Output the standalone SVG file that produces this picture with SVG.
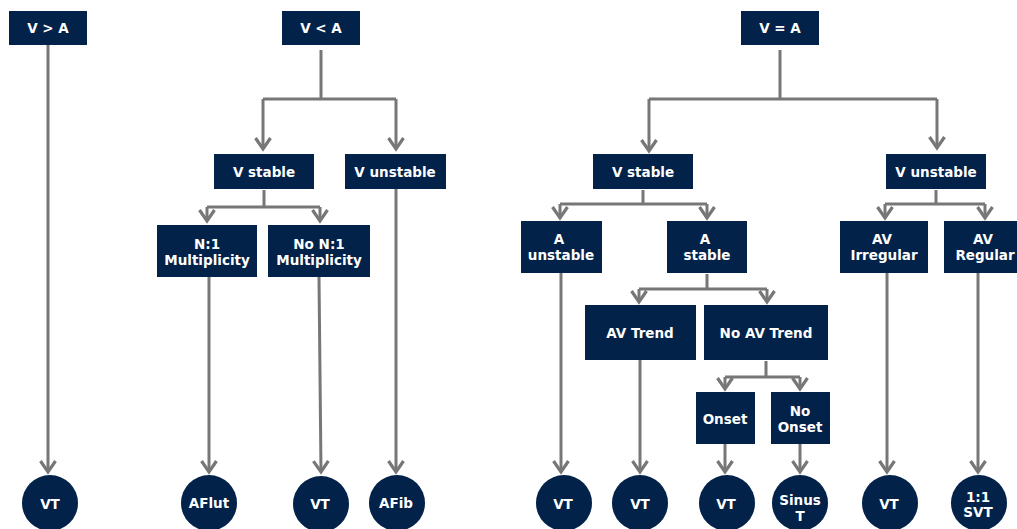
<svg xmlns="http://www.w3.org/2000/svg" width="1017" height="529" viewBox="0 0 1017 529">
<style>
.n{fill:#02224a}
.t{fill:#fff;font-family:"DejaVu Sans",Verdana,sans-serif;font-weight:bold;font-size:13.5px;text-anchor:middle;dominant-baseline:central}
.c{fill:none;stroke:#777;stroke-width:3;marker-end:url(#ah)}
.l{fill:none;stroke:#777;stroke-width:3}
</style>
<defs>
<marker id="ah" markerUnits="userSpaceOnUse" markerWidth="20" markerHeight="20" refX="15" refY="10" orient="auto" viewBox="0 0 20 20">
<path d="M4,2.5 L15,10 L4,17.5" fill="none" stroke="#777" stroke-width="3.2"/>
</marker>
</defs>
<rect width="1017" height="529" fill="#fff"/>
<g id="connectors">
<path class="c" d="M48,45 V472"/>
<path class="l" d="M321,50 V99 M263,99 H396"/>
<path class="c" d="M263,99 V149"/>
<path class="c" d="M396,99 V149"/>
<path class="l" d="M264,190 V207 M207,207 H320"/>
<path class="c" d="M207,207 V221"/>
<path class="c" d="M320,207 V221"/>
<path class="c" d="M209,277 V472"/>
<path class="c" d="M319,277 L321,472"/>
<path class="c" d="M396,189 V472"/>
<path class="l" d="M780,50 V99 M649,99 H937"/>
<path class="c" d="M649,99 V151"/>
<path class="c" d="M937,99 V148"/>
<path class="l" d="M643,190 V204 M560,204 H707"/>
<path class="c" d="M560,204 V218"/>
<path class="c" d="M707,204 V218"/>
<path class="l" d="M936,190 V204 M885,204 H985"/>
<path class="c" d="M885,204 V218"/>
<path class="c" d="M985,204 V218"/>
<path class="l" d="M707,274 V289 M639,289 H767"/>
<path class="c" d="M639,289 V302"/>
<path class="c" d="M767,289 V302"/>
<path class="l" d="M766,361 V377 M725,377 H800"/>
<path class="c" d="M725,377 V389"/>
<path class="c" d="M800,377 V389"/>
<path class="c" d="M561,273 V472"/>
<path class="c" d="M640,360 V472"/>
<path class="c" d="M725,444 V472"/>
<path class="c" d="M800,444 V472"/>
<path class="c" d="M887,273 V472"/>
<path class="c" d="M978,273 V472"/>
</g>
<g id="vgta"><rect class="n" x="9" y="11" width="78" height="34"/><text class="t" x="48" y="28">V &gt; A</text></g>
<g id="vlta"><rect class="n" x="282" y="11" width="78" height="34"/><text class="t" x="321" y="28">V &lt; A</text></g>
<g id="veqa"><rect class="n" x="741" y="11" width="78" height="34"/><text class="t" x="780" y="28">V = A</text></g>
<g id="vstable1"><rect class="n" x="214" y="154" width="100" height="35"/><text class="t" x="264" y="172">V stable</text></g>
<g id="vunstable1"><rect class="n" x="345" y="154" width="101" height="35"/><text class="t" x="395" y="172">V unstable</text></g>
<g id="n1mult"><rect class="n" x="157" y="225" width="100" height="52"/><text class="t" x="207" y="244">N:1</text><text class="t" x="207" y="260">Multiplicity</text></g>
<g id="non1mult"><rect class="n" x="268" y="225" width="102" height="52"/><text class="t" x="319" y="244">No N:1</text><text class="t" x="319" y="260">Multiplicity</text></g>
<g id="vstable2"><rect class="n" x="593" y="154" width="100" height="35"/><text class="t" x="643" y="172">V stable</text></g>
<g id="vunstable2"><rect class="n" x="886" y="154" width="100" height="35"/><text class="t" x="936" y="172">V unstable</text></g>
<g id="aunstable"><rect class="n" x="521" y="221" width="81" height="52"/><text class="t" x="559" y="239">A</text><text class="t" x="561" y="255">unstable</text></g>
<g id="astable"><rect class="n" x="667" y="221" width="80" height="52"/><text class="t" x="705" y="239">A</text><text class="t" x="707" y="255">stable</text></g>
<g id="avirreg"><rect class="n" x="840" y="221" width="88" height="52"/><text class="t" x="882" y="239">AV</text><text class="t" x="884" y="255">Irregular</text></g>
<g id="avreg"><rect class="n" x="944" y="221" width="82" height="52"/><text class="t" x="983" y="239">AV</text><text class="t" x="985" y="255">Regular</text></g>
<g id="avtrend"><rect class="n" x="585" y="305" width="111" height="55"/><text class="t" x="640" y="333">AV Trend</text></g>
<g id="noavtrend"><rect class="n" x="704" y="305" width="124" height="55"/><text class="t" x="766" y="333">No AV Trend</text></g>
<g id="onset"><rect class="n" x="696" y="392" width="59" height="52"/><text class="t" x="725" y="419">Onset</text></g>
<g id="noonset"><rect class="n" x="771" y="392" width="59" height="52"/><text class="t" x="800" y="411">No</text><text class="t" x="800" y="427">Onset</text></g>
<g id="o1"><circle class="n" cx="50" cy="503" r="28"/><text class="t" x="50" y="504">VT</text></g>
<g id="o2"><circle class="n" cx="209" cy="503" r="28"/><text class="t" x="209" y="503">AFlut</text></g>
<g id="o3"><circle class="n" cx="321" cy="504" r="28"/><text class="t" x="320" y="504">VT</text></g>
<g id="o4"><circle class="n" cx="397" cy="503" r="28"/><text class="t" x="396" y="503">AFib</text></g>
<g id="o5"><circle class="n" cx="564" cy="503" r="28"/><text class="t" x="563" y="504">VT</text></g>
<g id="o6"><circle class="n" cx="640" cy="503" r="28"/><text class="t" x="640" y="504">VT</text></g>
<g id="o7"><circle class="n" cx="727" cy="503" r="28"/><text class="t" x="726" y="504">VT</text></g>
<g id="o8"><circle class="n" cx="800" cy="503" r="28"/><text class="t" x="800" y="500">Sinus</text><text class="t" x="800" y="516">T</text></g>
<g id="o9"><circle class="n" cx="890" cy="503" r="28"/><text class="t" x="889" y="504">VT</text></g>
<g id="o10"><circle class="n" cx="979" cy="503" r="28"/><text class="t" x="978" y="497">1:1</text><text class="t" x="978" y="512">SVT</text></g>
</svg>
